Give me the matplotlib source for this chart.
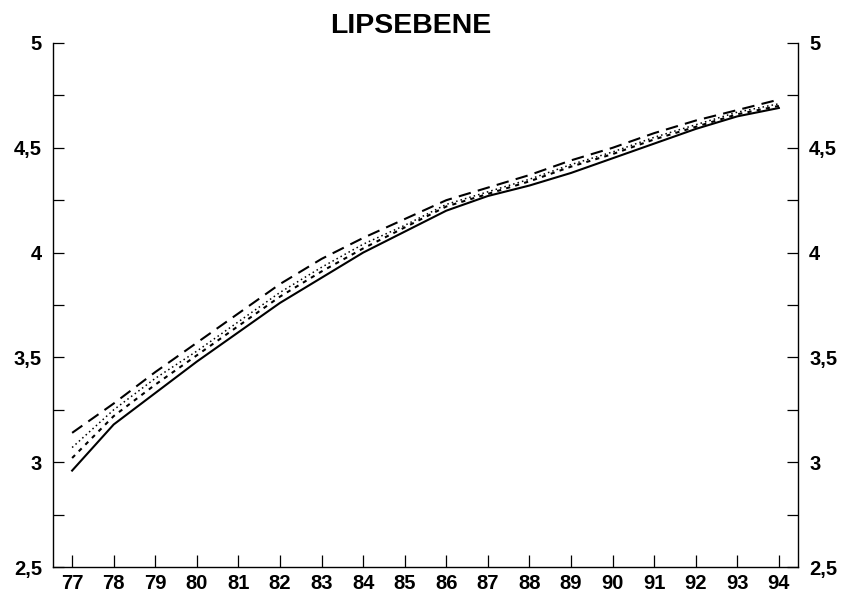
import numpy as np
import matplotlib
matplotlib.use("Agg")
import matplotlib.pyplot as plt
from matplotlib.ticker import MultipleLocator, FuncFormatter

# years (19xx) and the four projection series
years = np.arange(77, 95)
series_solid = [2.96, 3.18, 3.33, 3.48, 3.62, 3.76, 3.88, 4.00, 4.10, 4.20,
                4.27, 4.32, 4.38, 4.45, 4.52, 4.59, 4.65, 4.69]
series_longdash = [3.14, 3.28, 3.43, 3.57, 3.71, 3.85, 3.97, 4.07, 4.16, 4.25,
                   4.31, 4.37, 4.44, 4.50, 4.57, 4.63, 4.68, 4.73]
series_dotted = [3.07, 3.25, 3.40, 3.53, 3.67, 3.81, 3.93, 4.04, 4.13, 4.23,
                 4.29, 4.35, 4.42, 4.48, 4.55, 4.61, 4.67, 4.71]
series_shortdash = [3.02, 3.22, 3.37, 3.51, 3.65, 3.79, 3.91, 4.02, 4.12, 4.22,
                    4.28, 4.34, 4.41, 4.47, 4.54, 4.60, 4.66, 4.70]

plt.rcParams['font.family'] = ['Liberation Sans', 'DejaVu Sans']
plt.rcParams['font.weight'] = 'bold'

fig = plt.figure(figsize=(8.41, 5.97), dpi=100)
ax = fig.add_axes([53 / 841, 30 / 597, 745 / 841, 524 / 597])

ax.plot(years, series_solid, color='black', lw=1.5, ls='-')
ax.plot(years, series_longdash, color='black', lw=1.5, ls=(0, (6, 3.5)))
ax.plot(years, series_dotted, color='black', lw=1.1, ls=(0, (1, 2)))
ax.plot(years, series_shortdash, color='black', lw=1.5, ls=(0, (2, 2.5)))

ax.set_xlim(76.54, 94.46)
ax.set_ylim(2.5, 5)

ax.spines['top'].set_visible(False)
for s in ('left', 'right', 'bottom'):
    ax.spines[s].set_linewidth(1.0)

ax.set_xticks(years)
ax.set_xticklabels([str(y) for y in years])
ax.yaxis.set_major_locator(MultipleLocator(0.5))
ax.yaxis.set_minor_locator(MultipleLocator(0.25))
ax.yaxis.set_major_formatter(
    FuncFormatter(lambda v, p: ('%g' % v).replace('.', ',')))

ax.tick_params(axis='x', direction='in', length=9, width=0.9, pad=5,
               labelsize=14.5, top=False)
ax.tick_params(axis='y', which='both', direction='in', length=8, width=0.9,
               pad=8, labelsize=14.5, left=True, right=True,
               labelleft=True, labelright=True)

fig.text(411 / 841, 1 - 26 / 597, 'LIPSEBENE', ha='center', va='center',
         fontsize=20.5, fontweight='bold')

fig.savefig('out.png', dpi=100)
